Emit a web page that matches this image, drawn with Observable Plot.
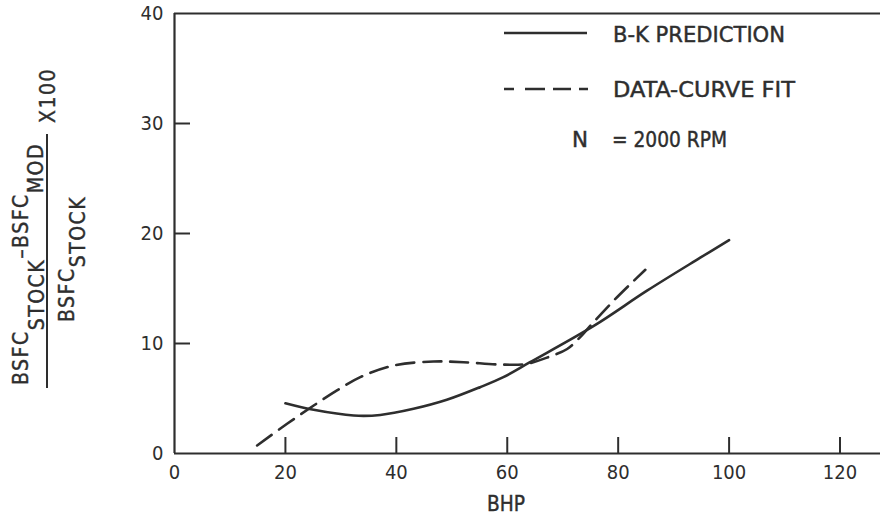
<!DOCTYPE html>
<html><head><meta charset="utf-8">
<script src="https://cdn.jsdelivr.net/npm/d3@7"></script>
<script src="https://cdn.jsdelivr.net/npm/@observablehq/plot@0.6"></script>
<style>body{margin:0;background:#fff}</style>
</head><body><div id="chart"></div>
<script>
// B-K prediction (solid)
const bkBhp = [20, 25.1, 32.3, 37.1, 43.1, 49.1, 55.1, 59.3, 64.1, 75.6, 85.2, 94.8, 100];
const bkPct = [4.57, 3.97, 3.45, 3.5, 4.06, 4.88, 6.03, 6.94, 8.3, 11.6, 14.8, 17.8, 19.4];
// Data-curve fit (dashed)
const fitBhp = [14.9, 20.3, 25.1, 29.3, 33.5, 39.5, 46.7, 52.1, 58.7, 63.5, 67.7, 70.8, 73.2, 75.5, 79.2, 82.2, 84.9];
const fitPct = [0.73, 2.7, 4.36, 5.73, 6.94, 8.0, 8.36, 8.3, 8.09, 8.15, 8.82, 9.5, 10.6, 11.9, 13.9, 15.4, 16.7];
const xTicks = [0, 20, 40, 60, 80, 100, 120];
const yTicks = [0, 10, 20, 30, 40];
const legendLabels = ["B-K PREDICTION", "DATA-CURVE FIT"];
const rpmNote = ["N", "= 2000 RPM"];

const bk = bkBhp.map((x, i) => ({bhp: x, pct: bkPct[i]}));
const fit = fitBhp.map((x, i) => ({bhp: x, pct: fitPct[i]}));

const W = 880, H = 516, mL = 174, mR = 0, mT = 13, mB = 63;
const ink = "#2e2e2e";
const font = "DejaVu Sans Condensed";

const plot = Plot.plot({
  width: W, height: H,
  marginLeft: mL, marginRight: mR, marginTop: mT, marginBottom: mB,
  x: {domain: [0, 127.3]},
  y: {domain: [0, 40]},
  style: {fontFamily: font, fontSize: "20px", color: ink, background: "white"},
  marks: [
    Plot.axisX({ticks: xTicks, tickSize: 0, tickPadding: 11, label: null, tickFormat: d => String(d), stroke: ink, strokeWidth: 0.4}),
    Plot.axisY({ticks: yTicks, tickSize: 0, tickPadding: 11, label: null, tickFormat: d => String(d), stroke: ink, strokeWidth: 0.4}),
    Plot.tickX(xTicks.filter(d => d > 0), {x: d => d, insetTop: H - mT - mB - 16, stroke: ink, strokeWidth: 2}),
    Plot.tickY(yTicks.filter(d => d > 0 && d < 40), {y: d => d, insetRight: W - mL - mR - 16, stroke: ink, strokeWidth: 2}),
    Plot.ruleX([0], {stroke: ink, strokeWidth: 2.2}),
    Plot.ruleY([0], {stroke: ink, strokeWidth: 2.2}),
    Plot.ruleY([40], {stroke: ink, strokeWidth: 2}),
    Plot.line(bk, {x: "bhp", y: "pct", curve: "catmull-rom", stroke: ink, strokeWidth: 2.6}),
    Plot.line(fit, {x: "bhp", y: "pct", curve: "catmull-rom", stroke: ink, strokeWidth: 2.6, strokeDasharray: "18,9"})
  ]
});

const svg = d3.select(plot);
const g = svg.append("g")
  .attr("font-family", font).attr("font-size", 21).attr("fill", ink)
  .attr("text-anchor", "start").attr("stroke", ink).attr("stroke-width", 0.4);

const txt = (sel, s, x, y, len) => {
  const t = sel.append("text").attr("x", x).attr("y", y).text(s);
  if (len) t.attr("textLength", len).attr("lengthAdjust", "spacingAndGlyphs");
  return t;
};

// legend
g.append("line").attr("x1", 504).attr("x2", 587).attr("y1", 33).attr("y2", 33)
  .attr("stroke", ink).attr("stroke-width", 2.6);
txt(g, legendLabels[0], 613, 42, 172);
g.append("line").attr("x1", 504).attr("x2", 588).attr("y1", 89).attr("y2", 89)
  .attr("stroke", ink).attr("stroke-width", 2.6).attr("stroke-dasharray", "10,11,20,8,18,8,9");
txt(g, legendLabels[1], 613, 97, 182);
txt(g, rpmNote[0], 572, 147, 16);
txt(g, rpmNote[1], 612, 147, 115);

// x label
txt(g, "BHP", 487, 511, 38);

// y label (rotated fraction)
const yl = g.append("g").attr("transform", "rotate(-90)").attr("letter-spacing", 1.5);
const num = yl.append("text").attr("x", -385).attr("y", 28);
num.append("tspan").text("BSFC");
num.append("tspan").attr("dy", 16).text("STOCK");
num.append("tspan").attr("dy", -16).text("\u2013BSFC");
num.append("tspan").attr("dy", 15).text("MOD");
yl.append("text").attr("x", -123).attr("y", 55).text("X100");
yl.append("line").attr("x1", -388).attr("x2", -134).attr("y1", 47).attr("y2", 47)
  .attr("stroke", ink).attr("stroke-width", 2);
const den = yl.append("text").attr("x", -322).attr("y", 74);
den.append("tspan").text("BSFC");
den.append("tspan").attr("dy", 11).text("STOCK");

document.getElementById("chart").appendChild(plot);
</script>
</body></html>
